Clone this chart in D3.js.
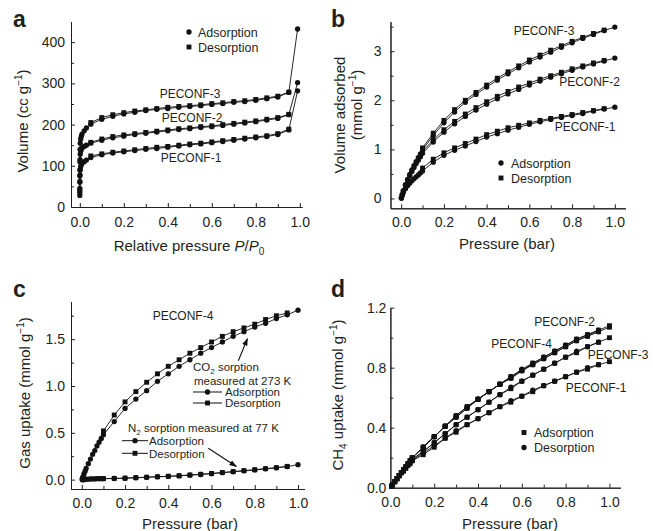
<!DOCTYPE html>
<html>
<head>
<meta charset="utf-8">
<script src="https://cdn.jsdelivr.net/npm/d3@7"></script>
<style>
  body { margin: 0; background: #fff; }
  svg text { font-family: "Liberation Sans", Arial, Helvetica, sans-serif; fill: #231f20; }
</style>
</head>
<body>
<svg></svg>
<script>
// Chart size
const width = 653;
const height = 531;

// ---- panel a: N2 isotherms (cc/g) vs relative pressure ----
const aAdsP = [0.00005,0.0002,0.0005,0.001,0.002,0.004,0.007,0.01,0.02,0.03,0.05,0.1,0.15,0.2,0.25,0.3,0.35,0.4,0.45,0.5,0.55,0.6,0.65,0.7,0.75,0.8,0.85,0.9,0.95,0.99];
const aDesP = [0.95,0.9,0.85,0.8,0.75,0.7,0.65,0.6,0.55,0.5,0.45,0.4,0.35,0.3,0.25,0.2,0.15,0.1,0.05];
const a1Ads = [28,45,62,78,90,98,103,106,110,114,120,127,131,134,137,140,142,145,148,151,153,156,159,162,165,168,171,176,187,282];
const a2Ads = [35,60,90,115,128,136,140,143,147,150,155,162,168,172,176,179,182,185,188,190,193,195,198,201,204,207,211,215,224,302];
const a3Ads = [40,75,110,140,155,165,172,177,185,192,201,213,220,226,230,234,237,239,242,244,246,249,251,254,256,259,263,267,278,432];
const a1Des = [189,178,173,170,167,164,161,158,155,153,150,147,145,142,139,136,133,129,124];
const a2Des = [225,217,213,209,206,203,200,197,195,192,190,187,184,181,178,175,171,165,157];
const a3Des = [279,269,265,261,258,256,253,251,248,246,244,242,239,236,233,229,224,217,205];

// ---- panel b: CO2 uptake (mmol/g) ----
const bAdsP = [0.001,0.005,0.01,0.02,0.03,0.04,0.05,0.06,0.07,0.08,0.09,0.1,0.15,0.2,0.25,0.3,0.35,0.4,0.45,0.5,0.55,0.6,0.65,0.7,0.75,0.8,0.85,0.9,0.95,1.0];
const bDesP = [0.95,0.9,0.85,0.8,0.75,0.7,0.65,0.6,0.55,0.5,0.45,0.4,0.35,0.3,0.25,0.2,0.15,0.1];
const b1Ads = [0.01,0.06,0.12,0.2,0.26,0.31,0.36,0.4,0.44,0.48,0.52,0.56,0.74,0.88,0.98,1.07,1.16,1.25,1.32,1.39,1.45,1.51,1.56,1.61,1.65,1.69,1.73,1.78,1.82,1.86];
const b2Ads = [0.01,0.08,0.15,0.27,0.37,0.46,0.55,0.63,0.71,0.78,0.85,0.92,1.15,1.35,1.52,1.67,1.8,1.92,2.03,2.13,2.22,2.31,2.39,2.47,2.54,2.61,2.68,2.74,2.8,2.86];
const b3Ads = [0.01,0.08,0.16,0.28,0.39,0.49,0.58,0.67,0.75,0.83,0.91,0.99,1.28,1.54,1.76,1.96,2.12,2.27,2.41,2.54,2.66,2.78,2.88,2.98,3.08,3.17,3.26,3.34,3.42,3.49];
const b1Des = [1.83,1.79,1.75,1.71,1.67,1.63,1.59,1.54,1.49,1.44,1.37,1.3,1.21,1.12,1.03,0.93,0.8,0.62];
const b2Des = [2.81,2.76,2.7,2.64,2.57,2.5,2.43,2.35,2.27,2.18,2.08,1.97,1.85,1.72,1.57,1.4,1.19,0.96];
const b3Des = [3.43,3.36,3.28,3.2,3.11,3.02,2.92,2.82,2.7,2.58,2.45,2.31,2.16,2.0,1.81,1.59,1.33,1.03];

// ---- panel c: PECONF-4, CO2 at 273 K and N2 at 77 K ----
const cAdsP = [0.002,0.005,0.01,0.015,0.02,0.03,0.04,0.05,0.06,0.07,0.08,0.09,0.1,0.15,0.2,0.25,0.3,0.35,0.4,0.45,0.5,0.55,0.6,0.65,0.7,0.75,0.8,0.85,0.9,0.95,1.0];
const cDesP = [0.95,0.9,0.85,0.8,0.75,0.7,0.65,0.6,0.55,0.5,0.45,0.4,0.35,0.3,0.25,0.2,0.15,0.1];
const cCO2Ads = [0.01,0.03,0.06,0.09,0.12,0.17,0.22,0.27,0.31,0.36,0.40,0.44,0.48,0.62,0.76,0.86,0.95,1.05,1.13,1.21,1.28,1.35,1.41,1.47,1.53,1.58,1.63,1.67,1.72,1.76,1.81];
const cCO2Des = [1.78,1.75,1.71,1.66,1.62,1.58,1.53,1.47,1.41,1.35,1.28,1.21,1.13,1.04,0.94,0.83,0.69,0.52];
const cN2Ads = [0,0,0,0.005,0.005,0.005,0.008,0.008,0.008,0.01,0.01,0.01,0.01,0.012,0.015,0.02,0.025,0.03,0.035,0.04,0.048,0.055,0.064,0.074,0.084,0.094,0.104,0.115,0.126,0.14,0.16];
const cN2Des = [0.142,0.128,0.117,0.106,0.096,0.086,0.076,0.066,0.057,0.05,0.042,0.036,0.031,0.026,0.021,0.016,0.013,0.011];

// ---- panel d: CH4 uptake (mmol/g) ----
const dAdsP = [0.005,0.01,0.02,0.03,0.04,0.05,0.06,0.07,0.08,0.09,0.1,0.15,0.2,0.25,0.3,0.35,0.4,0.45,0.5,0.55,0.6,0.65,0.7,0.75,0.8,0.85,0.9,0.95,1.0];
const dDesP = [0.95,0.9,0.85,0.8,0.75,0.7,0.65,0.6,0.55,0.5,0.45,0.4,0.35,0.3,0.25,0.2,0.15,0.1];
const d1Ads = [0.01,0.02,0.04,0.06,0.08,0.1,0.11,0.13,0.15,0.16,0.18,0.22,0.27,0.33,0.37,0.42,0.46,0.50,0.54,0.57,0.61,0.64,0.68,0.71,0.74,0.77,0.79,0.82,0.84];
const d2Ads = [0.01,0.02,0.04,0.06,0.08,0.1,0.12,0.14,0.16,0.18,0.2,0.27,0.34,0.41,0.48,0.54,0.59,0.64,0.69,0.74,0.78,0.83,0.87,0.91,0.95,0.99,1.02,1.05,1.08];
const d3Ads = [0.01,0.02,0.04,0.06,0.08,0.1,0.12,0.13,0.15,0.17,0.19,0.24,0.30,0.36,0.42,0.47,0.52,0.57,0.62,0.66,0.71,0.75,0.79,0.83,0.87,0.90,0.94,0.97,1.0];
const d4Ads = [0.01,0.02,0.04,0.06,0.08,0.1,0.12,0.14,0.16,0.18,0.2,0.27,0.34,0.41,0.47,0.53,0.59,0.64,0.69,0.73,0.78,0.82,0.86,0.9,0.94,0.98,1.01,1.04,1.07];
const d1Des = [0.82,0.80,0.77,0.74,0.71,0.68,0.65,0.61,0.58,0.54,0.50,0.46,0.42,0.38,0.33,0.28,0.23,0.18];
const d2Des = [1.05,1.02,0.99,0.95,0.91,0.87,0.83,0.79,0.74,0.69,0.64,0.59,0.54,0.48,0.41,0.34,0.27,0.2];
const d3Des = [0.97,0.94,0.91,0.87,0.83,0.79,0.75,0.71,0.67,0.62,0.57,0.52,0.47,0.42,0.36,0.30,0.24,0.19];
const d4Des = [1.04,1.01,0.98,0.94,0.9,0.86,0.82,0.78,0.73,0.69,0.64,0.59,0.53,0.47,0.41,0.34,0.27,0.2];

// tick values
const pressTicks = [0,0.2,0.4,0.6,0.8,1.0];
const pressMinor = [0.1,0.3,0.5,0.7,0.9];

const svg = d3.select("svg")
    .attr("width", width)
    .attr("height", height)
    .attr("viewBox", [0, 0, width, height]);

svg.append("defs").append("marker")
    .attr("id", "arrow")
    .attr("viewBox", "0 0 10 10")
    .attr("refX", 9).attr("refY", 5)
    .attr("markerWidth", 7).attr("markerHeight", 7)
    .attr("orient", "auto")
  .append("path")
    .attr("d", "M0,1.5L10,5L0,8.5Z")
    .attr("fill", "#111");

// Builds the scales and the two inward-ticked axes of one panel.
function panel(o) {
  const x = d3.scaleLinear(o.xDomain, o.xRange);
  const y = d3.scaleLinear(o.yDomain, o.yRange);
  const g = svg.append("g");

  g.append("g")
      .attr("transform", `translate(0,${o.yRange[0]})`)
      .call(d3.axisBottom(x).tickValues(pressMinor).tickFormat("").tickSizeInner(-3).tickSizeOuter(0));
  g.append("g")
      .attr("transform", `translate(0,${o.yRange[0]})`)
      .call(d3.axisBottom(x).tickValues(pressTicks).tickFormat(d3.format(".1f"))
          .tickSizeInner(-4).tickSizeOuter(0).tickPadding(o.xPad));
  g.append("g")
      .attr("transform", `translate(${o.xRange[0]},0)`)
      .call(d3.axisLeft(y).tickValues(o.yMinor).tickFormat("").tickSizeInner(-3).tickSizeOuter(0));
  g.append("g")
      .attr("transform", `translate(${o.xRange[0]},0)`)
      .call(d3.axisLeft(y).tickValues(o.yTicks).tickFormat(o.yFormat)
          .tickSizeInner(-4).tickSizeOuter(0).tickPadding(o.yPad));

  g.selectAll(".domain, .tick line").attr("stroke", "#231f20").attr("stroke-width", 1);
  g.selectAll(".tick text").attr("font-size", 14).attr("fill", "#231f20")
      .attr("font-family", "'Liberation Sans', Arial, sans-serif");
  return {x, y, g};
}

// One isotherm branch: thin line plus markers.
function branch(p, xs, ys, shape) {
  const pts = xs.map((d, i) => [d, ys[i]]);
  const line = d3.line().x(d => p.x(d[0])).y(d => p.y(d[1]));
  p.g.append("path")
      .attr("d", line(pts))
      .attr("fill", "none")
      .attr("stroke", "#111")
      .attr("stroke-width", 0.9);
  const sym = d3.symbol(shape === "square" ? d3.symbolSquare : d3.symbolCircle, shape === "square" ? 24 : 22);
  p.g.append("g").selectAll("path")
    .data(pts)
    .join("path")
      .attr("transform", d => `translate(${p.x(d[0])},${p.y(d[1])})`)
      .attr("d", sym)
      .attr("fill", "#111");
}

function label(txt, x, y, size, anchor = "middle") {
  return svg.append("text").attr("x", x).attr("y", y)
      .attr("font-size", size).attr("text-anchor", anchor).text(txt);
}

function marker(x, y, shape) {
  const sym = d3.symbol(shape === "square" ? d3.symbolSquare : d3.symbolCircle, shape === "square" ? 24 : 22);
  svg.append("path").attr("transform", `translate(${x},${y})`).attr("d", sym).attr("fill", "#111");
}

// ================= panel a =================
const pa = panel({
  xDomain: [-0.04, 1.01], xRange: [71, 302],
  yDomain: [0, 450], yRange: [207, 21.6],
  yTicks: [0,100,200,300,400], yMinor: [50,150,250,350],
  yFormat: d3.format("d"), xPad: 10, yPad: 6
});
branch(pa, aAdsP, a1Ads, "circle");
branch(pa, aDesP, a1Des, "square");
branch(pa, aAdsP, a2Ads, "circle");
branch(pa, aDesP, a2Des, "square");
branch(pa, aAdsP, a3Ads, "circle");
branch(pa, aDesP, a3Des, "square");

label("PECONF-3", 190, 97.5, 12);
label("PECONF-2", 192, 121.5, 12);
label("PECONF-1", 191, 162, 12);
marker(189, 32, "circle");
label("Adsorption", 198, 36.5, 12.5, "start");
marker(189, 47, "square");
label("Desorption", 198, 51.5, 12.5, "start");

// ================= panel b =================
const pb = panel({
  xDomain: [-0.05, 1.05], xRange: [390.5, 625.5],
  yDomain: [-0.2, 3.6], yRange: [208.3, 21.7],
  yTicks: [0,1,2,3], yMinor: [0.5,1.5,2.5,3.5],
  yFormat: d3.format("d"), xPad: 9, yPad: 9
});
branch(pb, bAdsP, b1Ads, "circle");
branch(pb, bDesP, b1Des, "square");
branch(pb, bAdsP, b2Ads, "circle");
branch(pb, bDesP, b2Des, "square");
branch(pb, bAdsP, b3Ads, "circle");
branch(pb, bDesP, b3Des, "square");

label("PECONF-3", 544, 34.5, 12);
label("PECONF-2", 589.5, 85.5, 12);
label("PECONF-1", 585, 131, 12);
marker(501, 163, "circle");
label("Adsorption", 511, 167.5, 12.5, "start");
marker(501, 178, "square");
label("Desorption", 511, 182.5, 12.5, "start");

// ================= panel c =================
const pc = panel({
  xDomain: [-0.05, 1.03], xRange: [71, 304.5],
  yDomain: [-0.1, 1.9], yRange: [489, 301.7],
  yTicks: [0,0.5,1.0,1.5], yMinor: [0.25,0.75,1.25,1.75],
  yFormat: d3.format(".1f"), xPad: 9, yPad: 6
});
branch(pc, cAdsP, cN2Ads, "circle");
branch(pc, cDesP, cN2Des, "square");
branch(pc, cAdsP, cCO2Ads, "circle");
branch(pc, cDesP, cCO2Des, "square");

label("PECONF-4", 183, 320, 12);
const co2 = label("CO", 193, 370.5, 11.5, "start");
co2.append("tspan").attr("font-size", 8).attr("dy", 3).text("2");
co2.append("tspan").attr("dy", -3).text(" sorption");
label("measured at 273 K", 194, 384.5, 11.5, "start");
svg.append("line").attr("x1", 193).attr("x2", 222).attr("y1", 392).attr("y2", 392).attr("stroke", "#111");
marker(207.5, 392, "circle");
label("Adsorption", 225, 396, 11.5, "start");
svg.append("line").attr("x1", 193).attr("x2", 222).attr("y1", 403).attr("y2", 403).attr("stroke", "#111");
marker(207.5, 403, "square");
label("Desorption", 225, 407, 11.5, "start");

const n2 = label("N", 128, 431.5, 11.5, "start");
n2.append("tspan").attr("font-size", 8).attr("dy", 3).text("2");
n2.append("tspan").attr("dy", -3).text(" sorption measured at 77 K");
svg.append("line").attr("x1", 122).attr("x2", 148).attr("y1", 440.7).attr("y2", 440.7).attr("stroke", "#111");
marker(135, 440.7, "circle");
label("Adsorption", 149, 445, 11.5, "start");
svg.append("line").attr("x1", 122).attr("x2", 148).attr("y1", 453.3).attr("y2", 453.3).attr("stroke", "#111");
marker(135, 453.3, "square");
label("Desorption", 149, 457.5, 11.5, "start");

// arrows (in data coordinates)
svg.append("line")
    .attr("x1", pc.x(0.724)).attr("y1", pc.y(1.27))
    .attr("x2", pc.x(0.766)).attr("y2", pc.y(1.505))
    .attr("stroke", "#111").attr("stroke-width", 1.1).attr("marker-end", "url(#arrow)");
svg.append("line")
    .attr("x1", pc.x(0.585)).attr("y1", pc.y(0.335))
    .attr("x2", pc.x(0.715)).attr("y2", pc.y(0.14))
    .attr("stroke", "#111").attr("stroke-width", 1.1).attr("marker-end", "url(#arrow)");

// ================= panel d =================
const pd = panel({
  xDomain: [0, 1.05], xRange: [390.4, 620.4],
  yDomain: [0, 1.2], yRange: [487.7, 307.7],
  yTicks: [0,0.4,0.8,1.2], yMinor: [0.2,0.6,1.0],
  yFormat: d3.format(".1f"), xPad: 9, yPad: 4
});
branch(pd, dAdsP, d1Ads, "square");
branch(pd, dDesP, d1Des, "circle");
branch(pd, dAdsP, d3Ads, "square");
branch(pd, dDesP, d3Des, "circle");
branch(pd, dAdsP, d4Ads, "square");
branch(pd, dDesP, d4Des, "circle");
branch(pd, dAdsP, d2Ads, "square");
branch(pd, dDesP, d2Des, "circle");

label("PECONF-2", 564.5, 326, 12);
label("PECONF-4", 521.5, 347.5, 12);
label("PECONF-3", 618, 359, 12);
label("PECONF-1", 596, 392, 12);
marker(524, 432.5, "square");
label("Adsorption", 534, 437, 12.5, "start");
marker(524, 447.5, "circle");
label("Desorption", 534, 452, 12.5, "start");

// ================= titles =================
[["a", 13, 27], ["b", 331, 27], ["c", 13, 297], ["d", 331, 297]].forEach(([t, x, y]) =>
  svg.append("text").attr("x", x).attr("y", y).attr("font-size", 23)
     .attr("font-weight", "bold").attr("fill", "#000").text(t));

// x titles
const xa = label("Relative pressure ", 189, 251, 15);
xa.append("tspan").attr("font-style", "italic").text("P");
xa.append("tspan").text("/");
xa.append("tspan").attr("font-style", "italic").text("P");
xa.append("tspan").attr("font-size", 10).attr("dy", 4).text("0");
label("Pressure (bar)", 507, 249, 15);
label("Pressure (bar)", 190, 529, 15);
label("Pressure (bar)", 510, 529, 15);

// y titles with superscripts
function supTitle(x, y, parts) {
  const t = svg.append("text")
      .attr("transform", `translate(${x},${y}) rotate(-90)`)
      .attr("text-anchor", "middle").attr("font-size", 15);
  parts.forEach(p => {
    const s = t.append("tspan").text(p.t);
    if (p.sup) s.attr("font-size", 10).attr("dy", -6);
    if (p.sub) s.attr("font-size", 10).attr("dy", 4);
    if (p.back) s.attr("dy", p.back);
  });
  return t;
}
supTitle(28, 121, [{t: "Volume (cc g"}, {t: "−1", sup: true}, {t: ")", back: 6}]);
svg.append("text")
    .attr("transform", "translate(345,115) rotate(-90)")
    .attr("text-anchor", "middle").attr("font-size", 15).text("Volume adsorbed");
supTitle(362, 105, [{t: "(mmol g"}, {t: "−1", sup: true}, {t: ")", back: 6}]);
supTitle(30, 393, [{t: "Gas uptake (mmol g"}, {t: "−1", sup: true}, {t: ")", back: 6}]);
supTitle(343, 395, [{t: "CH"}, {t: "4", sub: true}, {t: " uptake (mmol g", back: -4}, {t: "−1", sup: true}, {t: ")", back: 6}]);
</script>
</body>
</html>
